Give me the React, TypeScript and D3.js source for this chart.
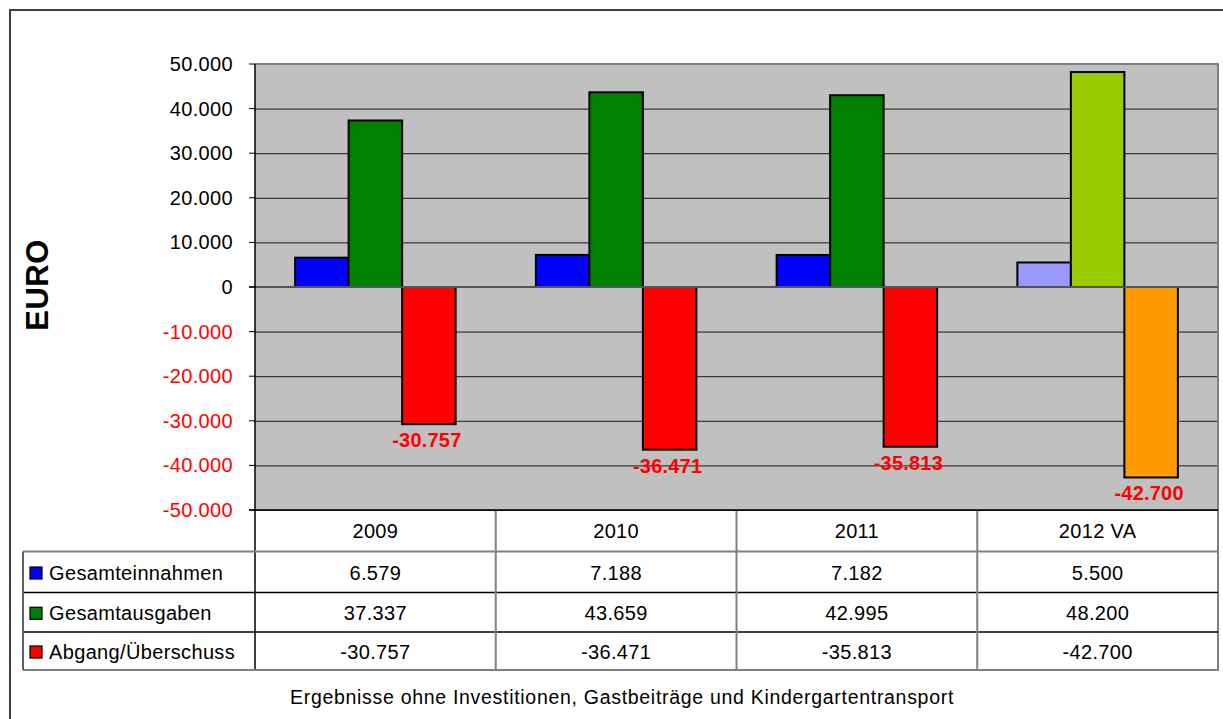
import React from "react";
import * as d3 from "d3";

// Data
const categories = ["2009", "2010", "2011", "2012 VA"];
const seriesNames = ["Gesamteinnahmen", "Gesamtausgaben", "Abgang/Überschuss"];
const einnahmen = [6579, 7188, 7182, 5500];
const ausgaben = [37337, 43659, 42995, 48200];
const abgang = [-30757, -36471, -35813, -42700];
const yTicks = [50000, 40000, 30000, 20000, 10000, 0, -10000, -20000, -30000, -40000, -50000];
const footnote = "Ergebnisse ohne Investitionen, Gastbeiträge und Kindergartentransport";

const seriesValues = [einnahmen, ausgaben, abgang];
const seriesColors = ["#0000FF", "#008000", "#FF0000"];
// The planned year (last category) is drawn in lighter tones
const planColors = ["#9999FF", "#99CC00", "#FF9900"];

const W = 1223;
const H = 719;
const FONT = "'Liberation Sans', Arial, sans-serif";
const LS = 0.35;

const fmt = (v: number) => {
  const s = Math.abs(v).toString();
  const withDots = s.replace(/\B(?=(\d{3})+(?!\d))/g, ".");
  return (v < 0 ? "-" : "") + withDots;
};

export default function App() {
  const plotLeft = 255;
  const plotRight = 1218;
  const plotTop = 64;
  const plotBottom = 510;
  const tableLeft = 23;
  const rowLines = [510, 551.5, 592.5, 632, 670];

  const y = d3.scaleLinear().domain([-50000, 50000]).range([plotBottom, plotTop]);
  const x = d3.scaleBand<string>().domain(categories).range([plotLeft, plotRight]).padding(0);
  const xs = d3
    .scaleBand<string>()
    .domain(seriesNames)
    .range([0, x.bandwidth()])
    .paddingInner(0)
    .paddingOuter(0.75);

  const y0 = y(0);

  return (
    <div style={{ position: "fixed", left: 0, top: 0, width: W, height: H, background: "#fff" }}>
      <svg width={W} height={H} style={{ display: "block", fontFamily: FONT }}>
        <rect x={0} y={0} width={W} height={H} fill="#fff" />
        {/* outer chart frame */}
        <rect x={10} y={10} width={W + 20} height={H + 20} fill="none" stroke="#404040" strokeWidth={2} />

        {/* plot area */}
        <rect x={plotLeft} y={plotTop} width={plotRight - plotLeft} height={plotBottom - plotTop} fill="#C0C0C0" />
        {yTicks.map((t) =>
          t === 0 ? null : (
            <line key={"g" + t} x1={plotLeft} x2={plotRight} y1={y(t) + 0.5} y2={y(t) + 0.5} stroke="#1a1a1a" strokeWidth={1} />
          )
        )}
        {/* top / right plot border */}
        <line x1={plotLeft} x2={plotRight + 1} y1={plotTop} y2={plotTop} stroke="#808080" strokeWidth={2} />
        <line x1={plotRight} x2={plotRight} y1={plotTop} y2={rowLines[4]} stroke="#808080" strokeWidth={2} />

        {/* bars */}
        {categories.map((c, ci) =>
          seriesNames.map((s, si) => {
            const v = seriesValues[si][ci];
            const bx = (x(c) as number) + (xs(s) as number);
            const top = Math.min(y(v), y0);
            const h = Math.abs(y(v) - y0);
            const fill = ci === categories.length - 1 ? planColors[si] : seriesColors[si];
            return (
              <rect key={c + s} x={bx} y={top} width={xs.bandwidth()} height={h} fill={fill} stroke="#000" strokeWidth={2} />
            );
          })
        )}

        {/* zero line */}
        <line x1={249} x2={plotRight} y1={y0} y2={y0} stroke="#555" strokeWidth={2} />

        {/* value labels for the balance series */}
        {categories.map((c, ci) => {
          const v = abgang[ci];
          const cx = (x(c) as number) + (xs(seriesNames[2]) as number) + xs.bandwidth() / 2 - 2;
          return (
            <text key={"l" + c} x={cx} y={y(v) + 23} textAnchor="middle" fontSize={20} fontWeight="bold" fill="#FF0000" letterSpacing={0.2}>
              {fmt(v)}
            </text>
          );
        })}

        {/* y axis */}
        <line x1={plotLeft} x2={plotLeft} y1={plotTop} y2={rowLines[4]} stroke="#000" strokeWidth={1.5} />
        {yTicks.map((t) => (
          <g key={"t" + t}>
            <line x1={249} x2={plotLeft} y1={y(t)} y2={y(t)} stroke="#000" strokeWidth={1} />
            <text x={233} y={y(t) + 7} textAnchor="end" fontSize={20} fill={t < 0 ? "#FF0000" : "#000"} letterSpacing={LS}>
              {fmt(t)}
            </text>
          </g>
        ))}
        <text
          transform={`translate(48, ${y0 - 2}) rotate(-90)`}
          textAnchor="middle"
          fontSize={31}
          fontWeight="bold"
          fill="#000"
          letterSpacing={0.5}
        >
          EURO
        </text>

        {/* data table */}
        <line x1={tableLeft} x2={plotRight} y1={rowLines[1]} y2={rowLines[1]} stroke="#808080" strokeWidth={2} />
        <line x1={tableLeft} x2={plotRight} y1={rowLines[2]} y2={rowLines[2]} stroke="#000" strokeWidth={1.5} />
        <line x1={tableLeft} x2={plotRight} y1={rowLines[3]} y2={rowLines[3]} stroke="#000" strokeWidth={1.5} />
        <line x1={tableLeft} x2={plotRight + 1} y1={rowLines[4]} y2={rowLines[4]} stroke="#808080" strokeWidth={2} />
        <line x1={tableLeft} x2={tableLeft} y1={rowLines[1]} y2={rowLines[4]} stroke="#606060" strokeWidth={2} />
        {categories.slice(1).map((c) => (
          <line key={"v" + c} x1={x(c)} x2={x(c)} y1={plotBottom} y2={rowLines[4]} stroke="#808080" strokeWidth={2} />
        ))}
        <line x1={249} x2={plotRight} y1={plotBottom} y2={plotBottom} stroke="#000" strokeWidth={1.5} />

        {categories.map((c) => (
          <text key={"c" + c} x={(x(c) as number) + x.bandwidth() / 2} y={(rowLines[0] + rowLines[1]) / 2 + 7} textAnchor="middle" fontSize={20} fill="#000" letterSpacing={LS}>
            {c}
          </text>
        ))}

        {seriesNames.map((s, si) => {
          const cy = (rowLines[si + 1] + rowLines[si + 2]) / 2;
          return (
            <g key={"r" + s}>
              <rect x={30} y={cy - 5} width={12} height={12} fill={seriesColors[si]} stroke="#000" strokeWidth={1.2} />
              <text x={49} y={cy + 8} fontSize={20} fill="#000" letterSpacing={LS}>
                {s}
              </text>
              {categories.map((c, ci) => (
                <text key={c} x={(x(c) as number) + x.bandwidth() / 2} y={cy + 8} textAnchor="middle" fontSize={20} fill="#000" letterSpacing={LS}>
                  {fmt(seriesValues[si][ci])}
                </text>
              ))}
            </g>
          );
        })}

        <text x={622} y={704} textAnchor="middle" fontSize={19.5} fill="#000" letterSpacing={0.7}>
          {footnote}
        </text>
      </svg>
    </div>
  );
}
